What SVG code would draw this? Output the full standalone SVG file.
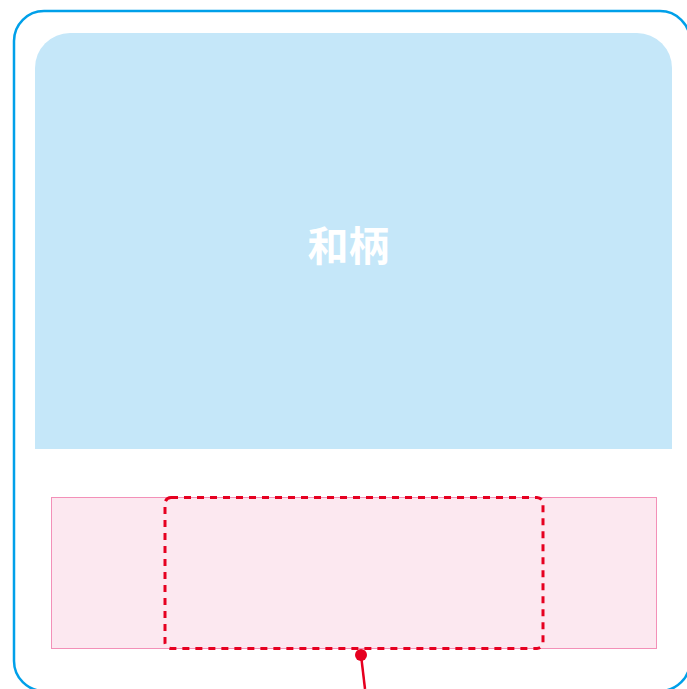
<svg xmlns="http://www.w3.org/2000/svg" width="687" height="689" viewBox="0 0 687 689">
<style>
.outer{fill:#ffffff;stroke:#00a0e9;stroke-width:2.5}
.panel{fill:#c5e7f9}
.band{fill:#fce8f0;stroke:#f390b8;stroke-width:1}
.sel{fill:none;stroke:#e60020;stroke-width:3;stroke-dasharray:7 6}
.lbl{font-family:"Noto Sans CJK JP","Noto Sans CJK SC",sans-serif;font-weight:bold;font-size:41px;fill:#ffffff}
.lead{stroke:#e60020;stroke-width:2.5;fill:none}
</style>
<g id="frame"><rect class="outer" x="14" y="11" width="676" height="680" rx="30" ry="30"/></g>
<g id="panel">
<path class="panel" d="M35 449 V68 A35 35 0 0 1 70 33 H637 A35 35 0 0 1 672 68 V449 Z"/>
<text class="lbl" x="348.5" y="261" text-anchor="middle">和柄</text>
</g>
<g id="band"><rect class="band" x="51.5" y="497.5" width="605" height="151"/></g>
<g id="selection"><rect class="sel" x="165" y="497.5" width="378" height="151" rx="6" ry="6"/></g>
<g id="connectors">
<line class="lead" x1="361" y1="655" x2="365" y2="689"/>
<circle cx="361" cy="655" r="6" fill="#e60020"/>
</g>
</svg>
